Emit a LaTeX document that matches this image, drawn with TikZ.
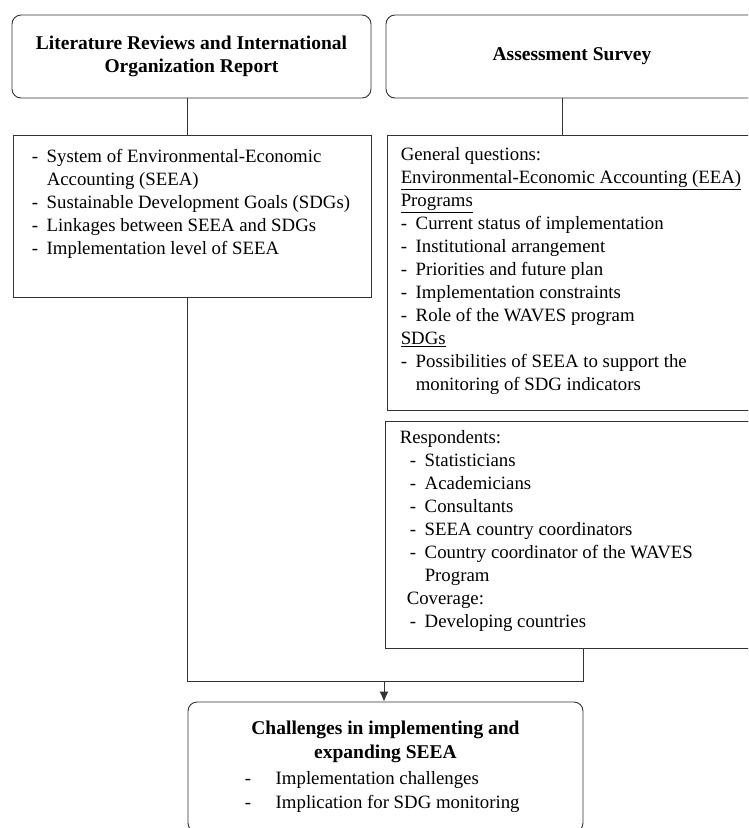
\documentclass[tikz,border=0pt]{standalone}
\usepackage{fontspec}
\setmainfont{Liberation Serif}
\usetikzlibrary{positioning,arrows.meta}

\newcommand{\dashitem}[1]{\makebox[15pt][l]{-}#1}
\newcommand{\dashcont}{\hspace*{15pt}}

\tikzset{
  headbox/.style={draw=black!80, line width=0.9pt, rounded corners=9pt, align=center,
    font=\fontsize{19.5}{23}\selectfont\bfseries},
  listbox/.style={draw=black!80, line width=0.9pt, rectangle},
  listtext/.style={inner sep=0pt, anchor=north west, align=left,
    font=\fontsize{18.8}{23}\selectfont},
  link/.style={draw=black!80, line width=0.9pt}
}

\begin{document}
\begin{tikzpicture}[x=1pt, y=-1pt]
\useasboundingbox (0,0) rectangle (748,828);
\clip (0,0) rectangle (748,828);

% top row
\node[headbox, minimum width=359pt, minimum height=83pt] (litbox) at (191.5,56.5)
  {Literature Reviews and International\\Organization Report};
\node[headbox, minimum width=372pt, minimum height=83pt] (surveybox) at (572,56.5)
  {Assessment Survey};

% list boxes
\node[listbox, minimum width=358pt, minimum height=162pt] (litlist) at (192,216) {};
\node[listbox, minimum width=371pt, minimum height=275pt] (surveylist) at (572.5,272.5) {};
\node[listbox, minimum width=373pt, minimum height=227pt] (resp) at (571.5,534.5) {};

\node[listtext, below right=15pt and 19pt of litlist.north west] (littext) {%
  \dashitem{System of Environmental-Economic}\\
  \dashcont Accounting (SEEA)\\
  \dashitem{Sustainable Development Goals (SDGs)}\\
  \dashitem{Linkages between SEEA and SDGs}\\
  \dashitem{Implementation level of SEEA}};

\node[listtext, below right=13pt and 14pt of surveylist.north west] (surveytext) {%
  General questions:\\
  \underline{Environmental-Economic Accounting (EEA)}\\
  \underline{Programs}\\
  \dashitem{Current status of implementation}\\
  \dashitem{Institutional arrangement}\\
  \dashitem{Priorities and future plan}\\
  \dashitem{Implementation constraints}\\
  \dashitem{Role of the WAVES program}\\
  \underline{SDGs}\\
  \dashitem{Possibilities of SEEA to support the}\\
  \dashcont monitoring of SDG indicators};

\node[listtext, below right=10pt and 15pt of resp.north west] (resptext) {%
  Respondents:\\
  \hspace*{10pt}\dashitem{Statisticians}\\
  \hspace*{10pt}\dashitem{Academicians}\\
  \hspace*{10pt}\dashitem{Consultants}\\
  \hspace*{10pt}\dashitem{SEEA country coordinators}\\
  \hspace*{10pt}\dashitem{Country coordinator of the WAVES}\\
  \hspace*{10pt}\dashcont Program\\
  \hspace*{7pt}Coverage:\\
  \hspace*{10pt}\dashitem{Developing countries}};

% result
\node[headbox, minimum width=395pt, minimum height=130pt] (challenge) at (385.5,767) {};
\node[inner sep=0pt, anchor=north, align=center, font=\fontsize{19.5}{24}\selectfont\bfseries,
  below=19pt of challenge.north] (chtitle)
  {Challenges in implementing and\\expanding SEEA};
\node[listtext, below right=70pt and 57pt of challenge.north west, font=\fontsize{18.8}{24}\selectfont] (chtext) {%
  \makebox[31pt][l]{-}Implementation challenges\\
  \makebox[31pt][l]{-}Implication for SDG monitoring};

% connectors
\coordinate (merge) at (384,681);
\draw[link] ([xshift=-4pt]litbox.south) -- ([xshift=-4pt]litbox.south |- litlist.north);
\draw[link] ([xshift=-10pt]surveybox.south) -- ([xshift=-10pt]surveybox.south |- surveylist.north);
\draw[link] ([xshift=-5pt]litlist.south) |- (merge);
\draw[link] ([xshift=11.5pt]resp.south) |- (merge);
\draw[link, -{Latex[length=10pt,width=9pt]}, fill=black] (merge) -- (challenge.north -| merge);
\end{tikzpicture}
\end{document}
